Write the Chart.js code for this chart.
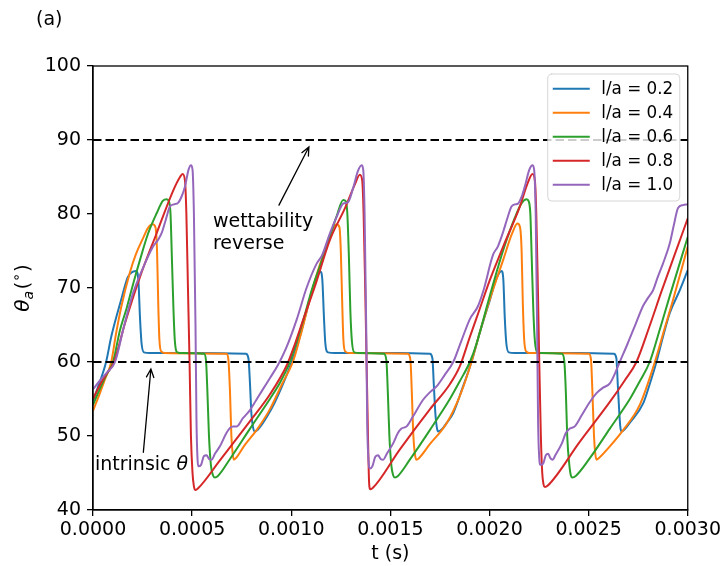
<!DOCTYPE html>
<html>
<head>
<meta charset="utf-8">
<script src="https://cdn.jsdelivr.net/npm/chart.js@4.4.0/dist/chart.umd.min.js"></script>
<style>
  html, body { margin: 0; padding: 0; background: #fff; }
</style>
</head>
<body>
<canvas id="contactAngle" width="724" height="566"></canvas>
<script>
// contact angle theta_a (deg) vs time t (s), one list per l/a ratio
const la02 = [[0, 54.8],[0.000025, 56.6],[0.000066, 60],[0.000092, 63.4],[0.000142, 68.4],[0.000176, 71.5],[0.000202, 72.2],[0.000218, 72.3],[0.000229, 71],[0.000237, 66],[0.000245, 62.5],[0.000257, 61.3],[0.000287, 61.2],[0.000539, 61.2],[0.000771, 61.1],[0.000784, 60.5],[0.000792, 57],[0.000799, 53],[0.000807, 51.2],[0.000817, 50.6],[0.000842, 51.2],[0.000877, 52.6],[0.000918, 54.6],[0.000958, 57],[0.001002, 60],[0.001044, 63.5],[0.001069, 66],[0.001104, 69.5],[0.001129, 71.6],[0.001148, 72.2],[0.001157, 71],[0.001165, 66],[0.001172, 62.5],[0.001185, 61.3],[0.001220, 61.2],[0.001548, 61.2],[0.001699, 61.1],[0.001712, 60.5],[0.001719, 57],[0.001727, 53],[0.001734, 51.2],[0.001741, 50.6],[0.001760, 50.9],[0.001785, 51.8],[0.001817, 53.1],[0.001860, 56.2],[0.001909, 60],[0.001951, 64],[0.002002, 68.4],[0.002037, 71.4],[0.002061, 72.3],[0.002070, 71],[0.002077, 66],[0.002085, 62.5],[0.002097, 61.3],[0.002128, 61.2],[0.002455, 61.2],[0.002627, 61.1],[0.002640, 60.5],[0.002647, 57],[0.002655, 53],[0.002660, 51.2],[0.002666, 50.6],[0.002682, 50.9],[0.002708, 51.8],[0.002775, 54.4],[0.002808, 57],[0.002842, 60],[0.002874, 63.3],[0.002909, 66.6],[0.002960, 69.7],[0.003, 72.4]];

const la04 = [[0, 53.4],[0.000035, 55.8],[0.000061, 57.7],[0.000092, 60],[0.000116, 63.8],[0.000143, 67.5],[0.000185, 72],[0.000217, 74.6],[0.000252, 76.7],[0.000277, 78.1],[0.000301, 78.6],[0.000315, 78.2],[0.000323, 75],[0.000329, 68],[0.000335, 63],[0.000345, 61.4],[0.000363, 61.2],[0.000539, 61.15],[0.000673, 61.1],[0.000683, 60.3],[0.000691, 56],[0.000698, 50],[0.000705, 47.5],[0.000711, 46.8],[0.000721, 47.0],[0.000766, 48.8],[0.000825, 50.8],[0.000892, 53.6],[0.000953, 57],[0.001008, 60],[0.001044, 63.3],[0.001094, 68.5],[0.001134, 72.3],[0.001178, 75.6],[0.001210, 78],[0.001229, 78.6],[0.001243, 78.2],[0.001250, 75],[0.001257, 68],[0.001263, 63],[0.001273, 61.4],[0.001296, 61.2],[0.001588, 61.1],[0.001601, 60.3],[0.001608, 56],[0.001616, 50],[0.001624, 47.5],[0.001632, 46.8],[0.001644, 47.0],[0.001699, 48.9],[0.001783, 51.7],[0.001850, 55.4],[0.001909, 60],[0.001951, 64],[0.002002, 68.5],[0.002069, 73.8],[0.002113, 77.3],[0.002141, 78.7],[0.002154, 78.2],[0.002162, 75],[0.002168, 68],[0.002175, 63],[0.002186, 61.4],[0.002203, 61.2],[0.002501, 61.1],[0.002512, 60.3],[0.002519, 56],[0.002527, 50],[0.002534, 47.5],[0.002540, 46.8],[0.002551, 47.0],[0.002607, 48.6],[0.002674, 50.8],[0.002758, 54.2],[0.002834, 60],[0.002884, 64.6],[0.002926, 68.4],[0.003, 75.6]];

const la06 = [[0, 54.2],[0.000035, 56.4],[0.000066, 58.2],[0.000101, 60],[0.000136, 64.3],[0.000170, 67.3],[0.000202, 70.5],[0.000237, 73.8],[0.000277, 77.3],[0.000321, 80.1],[0.000353, 81.8],[0.000372, 82.0],[0.000383, 81.7],[0.000391, 80],[0.000398, 74],[0.000406, 67],[0.000413, 62.8],[0.000426, 61.3],[0.000449, 61.2],[0.000560, 61.1],[0.000570, 60.2],[0.000577, 56],[0.000585, 50],[0.000595, 46],[0.000605, 44.7],[0.000615, 44.4],[0.000630, 44.6],[0.000691, 46.9],[0.000792, 51],[0.000892, 55],[0.000943, 57.2],[0.000993, 60],[0.001059, 65.5],[0.001104, 69.8],[0.001145, 73],[0.001195, 77],[0.001230, 79.8],[0.001262, 81.9],[0.001276, 81.7],[0.001283, 80],[0.001291, 74],[0.001298, 67],[0.001306, 62.8],[0.001318, 61.3],[0.001346, 61.2],[0.001467, 61.1],[0.001480, 60.2],[0.001487, 56],[0.001495, 50],[0.001505, 46],[0.001514, 44.7],[0.001523, 44.4],[0.001538, 44.6],[0.001598, 46.8],[0.001699, 50.8],[0.001800, 55],[0.001850, 57.4],[0.001901, 60],[0.001935, 62.5],[0.002002, 69],[0.002069, 75.1],[0.002128, 79.5],[0.002163, 81.5],[0.002187, 82],[0.002198, 81.7],[0.002206, 80],[0.002213, 74],[0.002221, 67],[0.002229, 62.8],[0.002241, 61.3],[0.002264, 61.2],[0.002365, 61.1],[0.002377, 60.2],[0.002385, 56],[0.002392, 50],[0.002403, 46],[0.002410, 44.7],[0.002418, 44.4],[0.002435, 44.6],[0.002506, 47],[0.002607, 51],[0.002708, 55],[0.002758, 57.4],[0.002808, 60],[0.002859, 64.4],[0.002909, 68.9],[0.003, 76.9]];

const la08 = [[0, 55.0],[0.000035, 56.9],[0.000071, 58.5],[0.000106, 60],[0.000161, 65.2],[0.000237, 71.5],[0.000321, 77.4],[0.000405, 83.2],[0.000439, 85],[0.000452, 85.4],[0.000464, 84.5],[0.000471, 80],[0.000479, 70],[0.000487, 60],[0.000494, 50],[0.000502, 45],[0.000509, 43.2],[0.000517, 42.7],[0.000529, 42.9],[0.000640, 46.7],[0.000792, 52],[0.000892, 55.6],[0.000978, 59.6],[0.001018, 62.4],[0.001060, 65.7],[0.001119, 70.2],[0.001195, 76.5],[0.001271, 80.8],[0.001321, 84],[0.001346, 85.3],[0.001358, 84.5],[0.001365, 80],[0.001373, 70],[0.001380, 60],[0.001387, 50],[0.001391, 45],[0.001394, 43.2],[0.001399, 42.8],[0.001412, 43],[0.001548, 48.2],[0.001699, 53.6],[0.001800, 57],[0.001850, 59.4],[0.001901, 63.4],[0.001951, 67.2],[0.002002, 71.1],[0.002069, 75.6],[0.002153, 81],[0.002193, 84.2],[0.002217, 85.4],[0.002229, 84.5],[0.002236, 80],[0.002244, 70],[0.002251, 60],[0.002259, 50],[0.002266, 45],[0.002273, 43.4],[0.002279, 43.1],[0.002294, 43.3],[0.002455, 49.2],[0.002607, 54.6],[0.002682, 57.5],[0.002741, 60],[0.002808, 64.9],[0.002867, 69.5],[0.002934, 74.5],[0.003, 79.4]];

const la10 = [[0, 56.3],[0.000035, 57.5],[0.000071, 58.6],[0.000111, 60],[0.000156, 64.8],[0.000202, 69.3],[0.000252, 72.7],[0.000303, 75.6],[0.000328, 76.5],[0.000346, 77.4],[0.000368, 79.3],[0.000388, 81],[0.000408, 81.3],[0.000429, 81.5],[0.000449, 82.5],[0.000464, 83.7],[0.000482, 86],[0.000494, 86.6],[0.000502, 86],[0.000509, 80],[0.000517, 65],[0.000522, 52],[0.000527, 47],[0.000531, 45.9],[0.000545, 46.1],[0.000560, 47.3],[0.000573, 47.4],[0.000585, 46.9],[0.000598, 46.8],[0.000615, 47.6],[0.000640, 48.6],[0.000671, 50.3],[0.000691, 51.1],[0.000706, 51.3],[0.000725, 51.3],[0.000756, 52.4],[0.000792, 53.5],[0.000822, 54.8],[0.000859, 56.4],[0.000892, 57.8],[0.000933, 59.6],[0.000973, 61.8],[0.001027, 65.7],[0.001077, 70],[0.001128, 73.3],[0.001155, 74.4],[0.001195, 77.4],[0.001229, 79.6],[0.001262, 81.4],[0.001287, 81.6],[0.001312, 83.5],[0.001336, 85.8],[0.001355, 86.6],[0.001363, 86],[0.001370, 80],[0.001378, 65],[0.001383, 52],[0.001389, 47],[0.001397, 45.6],[0.001409, 45.9],[0.001424, 47.2],[0.001438, 47.4],[0.001451, 46.9],[0.001464, 46.8],[0.001482, 47.6],[0.001514, 49],[0.001538, 50.4],[0.001556, 51],[0.001582, 51.3],[0.001613, 52.6],[0.001665, 54.9],[0.001699, 55.9],[0.001733, 56.7],[0.001775, 58.3],[0.001817, 60],[0.001860, 63],[0.001901, 65.8],[0.001941, 67.5],[0.001971, 69.8],[0.002018, 74.5],[0.002042, 75.6],[0.002069, 77.6],[0.002092, 79.6],[0.002111, 81],[0.002128, 81.3],[0.002144, 81.4],[0.002163, 82.4],[0.002178, 83.7],[0.002201, 86],[0.002217, 86.6],[0.002225, 86],[0.002233, 80],[0.002240, 65],[0.002245, 52],[0.002251, 47],[0.002257, 46.1],[0.002271, 46.3],[0.002284, 47.4],[0.002296, 47.6],[0.002307, 47],[0.002318, 46.8],[0.002334, 47.5],[0.002365, 49],[0.002385, 50.4],[0.002405, 51],[0.002430, 51.3],[0.002465, 52.8],[0.002506, 54.6],[0.002540, 55.8],[0.002571, 56.5],[0.002607, 57.1],[0.002632, 58.4],[0.002657, 60],[0.002697, 62.5],[0.002738, 65.2],[0.002775, 67.6],[0.002798, 68.6],[0.002825, 69.7],[0.002849, 71.5],[0.002875, 73.3],[0.002909, 76],[0.002929, 78.4],[0.002951, 80.8],[0.002976, 81.2],[0.003, 81.3]];

const seriesLabels = ['l/a = 0.2', 'l/a = 0.4', 'l/a = 0.6', 'l/a = 0.8', 'l/a = 1.0'];
const seriesData = [la02, la04, la06, la08, la10];
const seriesColors = ['#1f77b4', '#ff7f0e', '#2ca02c', '#d62728', '#9467bd'];

const refLevels = [90, 60];          // wettability reverse / intrinsic theta
const tRange = [0, 0.003];
const tStep = 0.0005;
const thetaRange = [40, 100];
const thetaStep = 10;

const FONT = "'DejaVu Sans', 'Liberation Sans', sans-serif";

const datasets = seriesData.map((pts, i) => ({
    label: seriesLabels[i],
    data: pts.map(p => ({ x: p[0], y: p[1] })),
    borderColor: seriesColors[i],
    backgroundColor: seriesColors[i],
    borderWidth: 2,
    cubicInterpolationMode: 'monotone',
    borderJoinStyle: 'round',
    pointRadius: 0,
    order: 5 - i,
    inLegend: true
}));

refLevels.forEach(v => {
    datasets.push({
        label: 'ref ' + v,
        data: [{ x: tRange[0], y: v }, { x: tRange[1], y: v }],
        borderColor: '#000',
        borderWidth: 2,
        borderDash: [8.5, 4],
        pointRadius: 0,
        order: 0,
        inLegend: false
    });
});

function arrow(ctx, x0, y0, x1, y1) {
    const ang = Math.atan2(y1 - y0, x1 - x0);
    const hl = 9, hw = 0.42;
    ctx.beginPath();
    ctx.moveTo(x0, y0);
    ctx.lineTo(x1, y1);
    ctx.moveTo(x1 - hl * Math.cos(ang - hw), y1 - hl * Math.sin(ang - hw));
    ctx.lineTo(x1, y1);
    ctx.lineTo(x1 - hl * Math.cos(ang + hw), y1 - hl * Math.sin(ang + hw));
    ctx.stroke();
}

const decorations = {
    id: 'decorations',
    afterDatasetsDraw(chart) {
        const ctx = chart.ctx;
        const area = chart.chartArea;
        const xs = chart.scales.x, ys = chart.scales.y;
        ctx.save();

        // full frame
        ctx.strokeStyle = '#000';
        ctx.lineWidth = 1.3;
        ctx.strokeRect(area.left, area.top, area.right - area.left, area.bottom - area.top);

        // annotations
        ctx.lineWidth = 1.3;
        ctx.fillStyle = '#000';
        ctx.lineCap = 'round';
        arrow(ctx, xs.getPixelForValue(0.000938), ys.getPixelForValue(81.2),
                   xs.getPixelForValue(0.001089), ys.getPixelForValue(89.05));
        arrow(ctx, xs.getPixelForValue(0.000254), ys.getPixelForValue(47.8),
                   xs.getPixelForValue(0.000292), ys.getPixelForValue(59.05));

        ctx.font = '19px ' + FONT;
        ctx.textBaseline = 'middle';
        ctx.textAlign = 'left';
        const wx = xs.getPixelForValue(0.000605);
        ctx.fillText('wettability', wx, ys.getPixelForValue(78.9));
        ctx.fillText('reverse', wx, ys.getPixelForValue(75.95));

        const ix = xs.getPixelForValue(0.00001), iy = ys.getPixelForValue(46.1);
        ctx.fillText('intrinsic ', ix, iy);
        const iw = ctx.measureText('intrinsic ').width;
        ctx.font = 'italic 19px ' + FONT;
        ctx.fillText('θ', ix + iw, iy);

        // legend
        const boxR = area.right - 8, boxT = area.top + 8;
        const boxW = 132, boxH = 127, boxL = boxR - boxW;
        ctx.beginPath();
        ctx.roundRect(boxL, boxT, boxW, boxH, 4);
        ctx.fillStyle = 'rgba(255,255,255,0.8)';
        ctx.fill();
        ctx.strokeStyle = 'rgba(204,204,204,0.8)';
        ctx.lineWidth = 1;
        ctx.stroke();
        ctx.font = '16.8px ' + FONT;
        ctx.textBaseline = 'middle';
        const items = chart.data.datasets.filter(d => d.inLegend);
        items.forEach((d, i) => {
            const y = boxT + 14.7 + i * 24;
            ctx.strokeStyle = d.borderColor;
            ctx.lineWidth = 2;
            ctx.lineCap = 'butt';
            ctx.beginPath();
            ctx.moveTo(boxL + 5, y);
            ctx.lineTo(boxL + 42, y);
            ctx.stroke();
            ctx.fillStyle = '#000';
            ctx.fillText(d.label, boxL + 53.5, y + 1);
        });

        // panel tag
        ctx.font = '19px ' + FONT;
        ctx.textBaseline = 'middle';
        ctx.fillText('(a)', 36, 20);

        // y axis label theta_a (deg)
        ctx.translate(29, (area.top + area.bottom) / 2);
        ctx.rotate(-Math.PI / 2);
        ctx.textBaseline = 'alphabetic';
        const parts = [
            { t: 'θ', f: 'italic 20px ' + FONT, dy: 0, gap: 0 },
            { t: 'a', f: 'italic 14px ' + FONT, dy: 4, gap: 1.5 },
            { t: '(', f: '20px ' + FONT, dy: 0, gap: 0 },
            { t: '∘', f: '14px ' + FONT, dy: -8.5, gap: 1 },
            { t: ')', f: '20px ' + FONT, dy: 0, gap: 0 }
        ];
        let total = 0;
        parts.forEach(p => { ctx.font = p.f; p.w = ctx.measureText(p.t).width + p.gap; total += p.w; });
        let cx = -total / 2;
        parts.forEach(p => { ctx.font = p.f; ctx.fillText(p.t, cx, p.dy); cx += p.w; });

        ctx.restore();
    }
};

new Chart(document.getElementById('contactAngle'), {
    type: 'line',
    data: { datasets: datasets },
    options: {
        responsive: false,
        animation: false,
        devicePixelRatio: 1,
        layout: { padding: { top: 66, right: 36, left: 0, bottom: 0 } },
        plugins: { legend: { display: false }, tooltip: { enabled: false } },
        scales: {
            x: {
                type: 'linear',
                min: tRange[0],
                max: tRange[1],
                afterFit: s => { s.height = 56; },
                ticks: {
                    stepSize: tStep,
                    autoSkip: false,
                    maxRotation: 0,
                    padding: 3,
                    color: '#000',
                    font: { family: FONT, size: 19 },
                    callback: v => Number(v).toFixed(4)
                },
                grid: { drawOnChartArea: false, drawTicks: true, tickLength: 6, color: '#000', lineWidth: 1.3 },
                border: { display: true, color: '#000', width: 1.3 },
                title: { display: true, text: 't (s)', color: '#000', font: { family: FONT, size: 19 }, padding: { top: 0, bottom: 1 } }
            },
            y: {
                min: thetaRange[0],
                max: thetaRange[1],
                afterFit: s => { s.width = 93; },
                ticks: {
                    stepSize: thetaStep,
                    padding: 6,
                    color: '#000',
                    font: { family: FONT, size: 19 }
                },
                grid: { drawOnChartArea: false, drawTicks: true, tickLength: 6, color: '#000', lineWidth: 1.3 },
                border: { display: true, color: '#000', width: 1.3 }
            }
        }
    },
    plugins: [decorations]
});
</script>
</body>
</html>
